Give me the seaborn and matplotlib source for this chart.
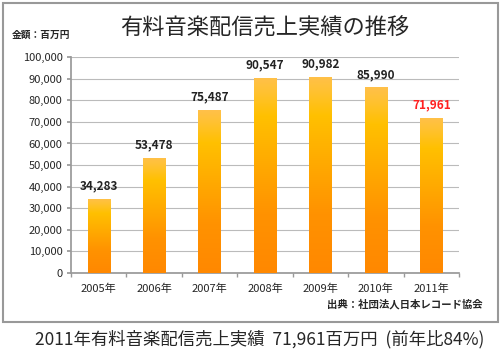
import numpy as np
import pandas as pd
import matplotlib.pyplot as plt
import seaborn as sns
from matplotlib.patches import Rectangle
from matplotlib.colors import LinearSegmentedColormap

years = ["2005年", "2006年", "2007年", "2008年", "2009年", "2010年", "2011年"]
sales = [34283, 53478, 75487, 90547, 90982, 85990, 71961]
label_colors = ["#222222"] * 6 + ["#FF2020"]

sns.set_theme(style="white")
plt.rcParams["font.family"] = ["Noto Sans CJK JP", "DejaVu Sans"]

df = pd.DataFrame({"year": years, "sales": sales})

fig = plt.figure(figsize=(5, 3.64), dpi=100)
ax = fig.add_axes([0.142, 0.25, 0.776, 0.593])

sns.barplot(data=df, x="year", y="sales", width=0.4, color="#FFA500", ax=ax)

# gradient fill over each bar (orange at the bottom, yellow near the top)
grad = LinearSegmentedColormap.from_list(
    "bar", [(0, "#FF8800"), (0.3, "#FF9200"), (0.8, "#FFC000"), (0.93, "#FFC233"), (1, "#FFC04A")])
img = np.linspace(0, 1, 256).reshape(-1, 1)
for bar in ax.patches:
    x0, y0 = bar.get_x(), bar.get_y()
    w, h = bar.get_width(), bar.get_height()
    bar.set_alpha(0)
    im = ax.imshow(img, cmap=grad, origin="lower", aspect="auto",
                   extent=[x0, x0 + w, y0, y0 + h], zorder=3)
    clip = Rectangle((x0, y0), w, h, transform=ax.transData)
    im.set_clip_path(clip)

for i, v in enumerate(sales):
    ax.text(i, v + 3000, f"{v:,}", ha="center", va="bottom", fontsize=8.5,
            fontweight="bold", color=label_colors[i], zorder=4)

ax.set_xlim(-0.5, 6.5)
ax.set_ylim(0, 100000)
ax.set_yticks(range(0, 100001, 10000))
ax.set_yticklabels([f"{t:,}" for t in range(0, 100001, 10000)], fontsize=8)
ax.set_xticks(range(len(years)))
ax.set_xticklabels(years, fontsize=8)
ax.set_xlabel("")
ax.set_ylabel("")
ax.grid(axis="y", color="#BBBBBB", linewidth=0.8, zorder=0)
ax.set_axisbelow(True)
for s in ["top", "right"]:
    ax.spines[s].set_visible(False)
ax.spines["left"].set_color("#999999")
ax.spines["bottom"].set_color("#999999")
ax.tick_params(axis="y", length=3, color="#999999", left=True, pad=3)
ax.tick_params(axis="x", length=0, pad=8)
ax.set_xticks(np.arange(-0.5, 7, 1), minor=True)
ax.tick_params(axis="x", which="minor", length=3, color="#999999", bottom=True)

fig.text(0.53, 0.923, "有料音楽配信売上実績の推移", ha="center", va="center", fontsize=16)
fig.text(0.024, 0.905, "金額：百万円", ha="left", va="center", fontsize=7, fontweight="bold")
fig.text(0.966, 0.163, "出典：社団法人日本レコード協会", ha="right", va="center",
         fontsize=7.5, fontweight="bold")
fig.text(0.52, 0.068, "2011年有料音楽配信売上実績  71,961百万円  (前年比84%)",
         ha="center", va="center", fontsize=12.5)

fig.patches.append(Rectangle((0.006, 0.115), 0.99, 0.877, transform=fig.transFigure,
                             fill=False, edgecolor="#999999", linewidth=1.5))

fig.savefig("out.png", dpi=100)
